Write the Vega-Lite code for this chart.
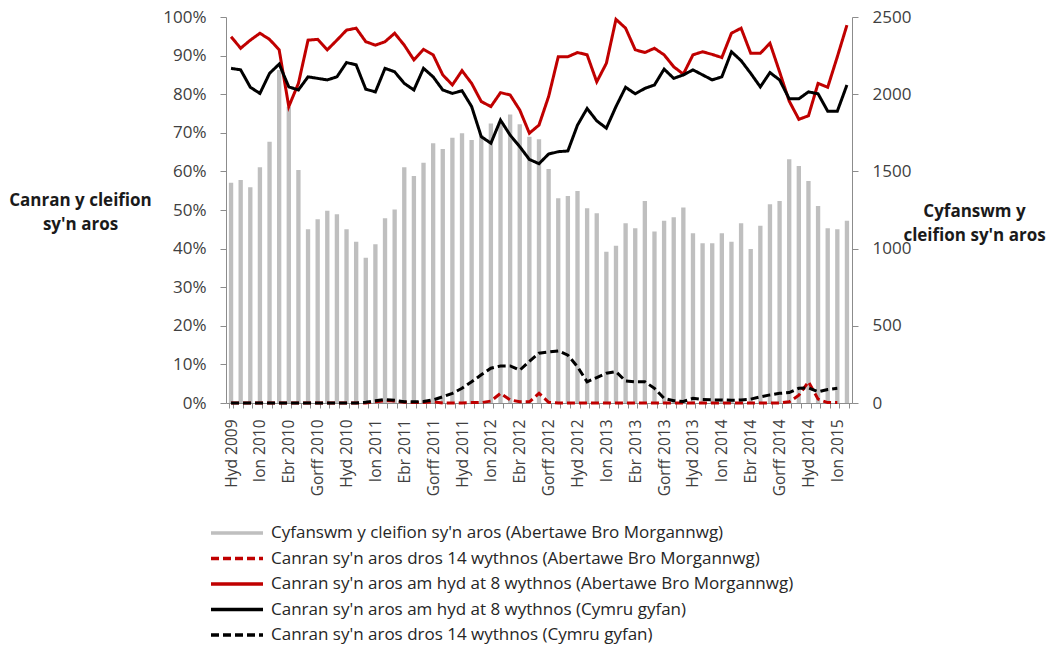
{
  "$schema": "https://vega.github.io/schema/vega-lite/v6.json",
  "autosize": "none",
  "width": 626,
  "height": 386,
  "padding": {"left": 226, "top": 17, "right": 196, "bottom": 245},
  "background": "white",
  "config": {
    "view": {"stroke": null},
    "font": "Open Sans",
    "axis": {"labelFont": "Open Sans", "titleFont": "Open Sans", "labelColor": "#404040", "titleColor": "#1a1a1a", "domainColor": "#8c8c8c", "tickColor": "#8c8c8c", "grid": false},
    "legend": {
      "orient": "none", "legendX": 1, "legendY": 506, "direction": "vertical",
      "labelFont": "Open Sans", "labelFontSize": 17, "labelColor": "#262626",
      "symbolType": "M-3.25,0H3.25", "symbolSize": 256, "symbolStrokeWidth": 3.5, "labelOffset": 24, "rowPadding": 7.5,
      "labelLimit": 800
    }
  },
  "data": {"values": [
    {"m":"Hyd 2009","total":1427,"a8":94.9,"w8":86.7,"w14":0,"a14":0},
    {"m":"Tach 2009","total":1444,"a8":91.9,"w8":86.3,"w14":0,"a14":0},
    {"m":"Rhag 2009","total":1397,"a8":94.0,"w8":81.8,"w14":0,"a14":0},
    {"m":"Ion 2010","total":1527,"a8":95.8,"w8":80.2,"w14":0,"a14":0},
    {"m":"Chwef 2010","total":1692,"a8":94.2,"w8":85.4,"w14":0,"a14":0},
    {"m":"Maw 2010","total":2157,"a8":91.5,"w8":87.8,"w14":0,"a14":0},
    {"m":"Ebr 2010","total":1919,"a8":76.8,"w8":81.9,"w14":0,"a14":0},
    {"m":"Mai 2010","total":1509,"a8":82.8,"w8":81.1,"w14":0,"a14":0},
    {"m":"Meh 2010","total":1125,"a8":94.0,"w8":84.5,"w14":0,"a14":0},
    {"m":"Gorff 2010","total":1190,"a8":94.2,"w8":84.1,"w14":0,"a14":0},
    {"m":"Awst 2010","total":1245,"a8":91.5,"w8":83.7,"w14":0,"a14":0},
    {"m":"Medi 2010","total":1222,"a8":94.0,"w8":84.5,"w14":0,"a14":0},
    {"m":"Hyd 2010","total":1125,"a8":96.6,"w8":88.2,"w14":0,"a14":0},
    {"m":"Tach 2010","total":1045,"a8":97.1,"w8":87.6,"w14":0,"a14":0},
    {"m":"Rhag 2010","total":941,"a8":93.6,"w8":81.3,"w14":0.2,"a14":0},
    {"m":"Ion 2011","total":1028,"a8":92.7,"w8":80.6,"w14":0.6,"a14":0.3},
    {"m":"Chwef 2011","total":1196,"a8":93.6,"w8":86.7,"w14":0.9,"a14":0.6},
    {"m":"Maw 2011","total":1254,"a8":95.8,"w8":85.8,"w14":0.7,"a14":0.5},
    {"m":"Ebr 2011","total":1527,"a8":92.7,"w8":82.8,"w14":0.3,"a14":0.2},
    {"m":"Mai 2011","total":1470,"a8":88.9,"w8":81.1,"w14":0.3,"a14":0.1},
    {"m":"Meh 2011","total":1556,"a8":91.6,"w8":86.7,"w14":0.4,"a14":0.1},
    {"m":"Gorff 2011","total":1682,"a8":90.2,"w8":84.5,"w14":0.8,"a14":0.3},
    {"m":"Awst 2011","total":1645,"a8":85.0,"w8":81.1,"w14":1.6,"a14":0},
    {"m":"Medi 2011","total":1718,"a8":82.4,"w8":80.2,"w14":2.5,"a14":0},
    {"m":"Hyd 2011","total":1747,"a8":86.1,"w8":80.9,"w14":3.8,"a14":0},
    {"m":"Tach 2011","total":1703,"a8":82.8,"w8":76.8,"w14":5.5,"a14":0.1},
    {"m":"Rhag 2011","total":1736,"a8":78.1,"w8":69.0,"w14":7.3,"a14":0.1},
    {"m":"Ion 2012","total":1811,"a8":76.8,"w8":67.3,"w14":9.0,"a14":0.5},
    {"m":"Chwef 2012","total":1815,"a8":80.4,"w8":73.3,"w14":9.6,"a14":2.5},
    {"m":"Maw 2012","total":1869,"a8":79.8,"w8":69.4,"w14":9.6,"a14":0.8},
    {"m":"Ebr 2012","total":1805,"a8":75.9,"w8":66.4,"w14":8.5,"a14":0.3},
    {"m":"Mai 2012","total":1725,"a8":69.9,"w8":63.1,"w14":10.8,"a14":0.3},
    {"m":"Meh 2012","total":1708,"a8":72.0,"w8":62.0,"w14":12.9,"a14":2.5},
    {"m":"Gorff 2012","total":1516,"a8":79.4,"w8":64.5,"w14":13.2,"a14":0.2},
    {"m":"Awst 2012","total":1326,"a8":89.7,"w8":65.1,"w14":13.5,"a14":0},
    {"m":"Medi 2012","total":1341,"a8":89.7,"w8":65.3,"w14":12.4,"a14":0},
    {"m":"Hyd 2012","total":1373,"a8":90.8,"w8":72.0,"w14":9.4,"a14":0},
    {"m":"Tach 2012","total":1261,"a8":90.2,"w8":76.3,"w14":5.5,"a14":0},
    {"m":"Rhag 2012","total":1229,"a8":83.2,"w8":73.1,"w14":6.6,"a14":0},
    {"m":"Ion 2013","total":980,"a8":88.0,"w8":71.2,"w14":7.7,"a14":0},
    {"m":"Chwef 2013","total":1019,"a8":99.4,"w8":76.8,"w14":8.1,"a14":0},
    {"m":"Maw 2013","total":1164,"a8":97.1,"w8":81.8,"w14":5.7,"a14":0},
    {"m":"Ebr 2013","total":1131,"a8":91.5,"w8":80.1,"w14":5.5,"a14":0},
    {"m":"Mai 2013","total":1308,"a8":90.8,"w8":81.5,"w14":5.5,"a14":0},
    {"m":"Meh 2013","total":1110,"a8":91.9,"w8":82.4,"w14":3.8,"a14":0},
    {"m":"Gorff 2013","total":1181,"a8":90.2,"w8":86.5,"w14":1.2,"a14":0},
    {"m":"Awst 2013","total":1203,"a8":87.1,"w8":84.1,"w14":0.6,"a14":0},
    {"m":"Medi 2013","total":1267,"a8":85.2,"w8":85.0,"w14":0.4,"a14":0},
    {"m":"Hyd 2013","total":1099,"a8":90.2,"w8":86.3,"w14":1.2,"a14":0},
    {"m":"Tach 2013","total":1034,"a8":91.0,"w8":85.0,"w14":0.9,"a14":0},
    {"m":"Rhag 2013","total":1034,"a8":90.3,"w8":83.7,"w14":0.8,"a14":0},
    {"m":"Ion 2014","total":1099,"a8":89.5,"w8":84.5,"w14":0.8,"a14":0},
    {"m":"Chwef 2014","total":1045,"a8":95.8,"w8":91.0,"w14":0.7,"a14":0},
    {"m":"Maw 2014","total":1164,"a8":97.1,"w8":88.7,"w14":0.8,"a14":0},
    {"m":"Ebr 2014","total":997,"a8":90.6,"w8":85.4,"w14":1.0,"a14":0},
    {"m":"Mai 2014","total":1148,"a8":90.6,"w8":81.9,"w14":1.6,"a14":0},
    {"m":"Meh 2014","total":1287,"a8":93.2,"w8":85.6,"w14":2.1,"a14":0},
    {"m":"Gorff 2014","total":1308,"a8":85.8,"w8":83.7,"w14":2.5,"a14":0},
    {"m":"Awst 2014","total":1578,"a8":78.2,"w8":78.8,"w14":2.7,"a14":0.3},
    {"m":"Medi 2014","total":1535,"a8":73.5,"w8":78.8,"w14":3.8,"a14":2.0},
    {"m":"Hyd 2014","total":1438,"a8":74.4,"w8":80.6,"w14":3.9,"a14":5.5},
    {"m":"Tach 2014","total":1276,"a8":82.8,"w8":80.1,"w14":2.9,"a14":1.0},
    {"m":"Rhag 2014","total":1131,"a8":81.8,"w8":75.6,"w14":3.5,"a14":0.1},
    {"m":"Ion 2015","total":1125,"a8":89.7,"w8":75.6,"w14":3.8,"a14":0.1},
    {"m":"Chwef 2015","total":1181,"a8":97.9,"w8":82.4,"w14":null,"a14":null}
  ]},
  "encoding": {
    "x": {
      "field": "m", "type": "ordinal", "sort": null,
      "scale": {"paddingInner": 0.55, "paddingOuter": 0.3},
      "axis": {
        "title": null, "labelAngle": -90, "labelFontSize": 15.5, "labelPadding": 11,
        "tickBand": "extent", "tickSize": 5, "labelOverlap": false,
        "labelExpr": "indexof(['Hyd', 'Ion', 'Ebr', 'Gorff'], split(datum.label, ' ')[0]) >= 0 ? datum.label : ''"
      }
    }
  },
  "layer": [
    {
      "mark": {"type": "bar", "color": "#BFBFBF"},
      "encoding": {
        "y": {
          "field": "total", "type": "quantitative",
          "scale": {"domain": [0, 2500], "nice": false},
          "axis": {
            "orient": "right", "values": [0, 500, 1000, 1500, 2000, 2500], "format": "d",
            "labelFontSize": 17, "tickSize": 6, "labelPadding": 14,
            "title": ["Cyfanswm y", "cleifion sy'n aros"], "titleAngle": 0, "titleFontSize": 17, "titleFontWeight": "bold",
            "titleAlign": "center", "titleBaseline": "alphabetic", "titleX": 122, "titleY": 199, "titleLineHeight": 24
          }
        }
      }
    },
    {
      "transform": [
        {"fold": ["a14", "a8", "w8", "w14"], "as": ["key", "pct"]},
        {"lookup": "key", "from": {"data": {"values": [
          {"key": "a14", "series": "Canran sy'n aros dros 14 wythnos (Abertawe Bro Morgannwg)"},
          {"key": "a8", "series": "Canran sy'n aros am hyd at 8 wythnos (Abertawe Bro Morgannwg)"},
          {"key": "w8", "series": "Canran sy'n aros am hyd at 8 wythnos (Cymru gyfan)"},
          {"key": "w14", "series": "Canran sy'n aros dros 14 wythnos (Cymru gyfan)"}
        ]}, "key": "key", "fields": ["series"]}},
        {"filter": "isValid(datum.pct)"}
      ],
      "mark": {"type": "line", "strokeWidth": 3, "strokeJoin": "miter"},
      "encoding": {
        "y": {
          "field": "pct", "type": "quantitative",
          "scale": {"domain": [0, 100], "nice": false},
          "axis": {
            "orient": "left", "values": [0, 10, 20, 30, 40, 50, 60, 70, 80, 90, 100],
            "labelExpr": "datum.value + '%'", "labelFontSize": 17, "tickSize": 6, "labelPadding": 14,
            "title": ["Canran y cleifion", "sy'n aros"], "titleAngle": 0, "titleFontSize": 17, "titleFontWeight": "bold",
            "titleAlign": "center", "titleBaseline": "alphabetic", "titleX": -146, "titleY": 188, "titleLineHeight": 24
          }
        },
        "color": {
          "field": "series", "type": "nominal",
          "scale": {
            "domain": [
              "Cyfanswm y cleifion sy'n aros (Abertawe Bro Morgannwg)",
              "Canran sy'n aros dros 14 wythnos (Abertawe Bro Morgannwg)",
              "Canran sy'n aros am hyd at 8 wythnos (Abertawe Bro Morgannwg)",
              "Canran sy'n aros am hyd at 8 wythnos (Cymru gyfan)",
              "Canran sy'n aros dros 14 wythnos (Cymru gyfan)"
            ],
            "range": ["#BFBFBF", "#C00000", "#C00000", "#000000", "#000000"]
          },
          "legend": {"title": null}
        },
        "strokeDash": {
          "field": "series", "type": "nominal",
          "scale": {
            "domain": [
              "Cyfanswm y cleifion sy'n aros (Abertawe Bro Morgannwg)",
              "Canran sy'n aros dros 14 wythnos (Abertawe Bro Morgannwg)",
              "Canran sy'n aros am hyd at 8 wythnos (Abertawe Bro Morgannwg)",
              "Canran sy'n aros am hyd at 8 wythnos (Cymru gyfan)",
              "Canran sy'n aros dros 14 wythnos (Cymru gyfan)"
            ],
            "range": [[1, 0], [8, 4], [1, 0], [1, 0], [8, 4]]
          },
          "legend": {"title": null}
        }
      }
    }
  ],
  "resolve": {"scale": {"y": "independent"}, "axis": {"y": "independent"}}
}
